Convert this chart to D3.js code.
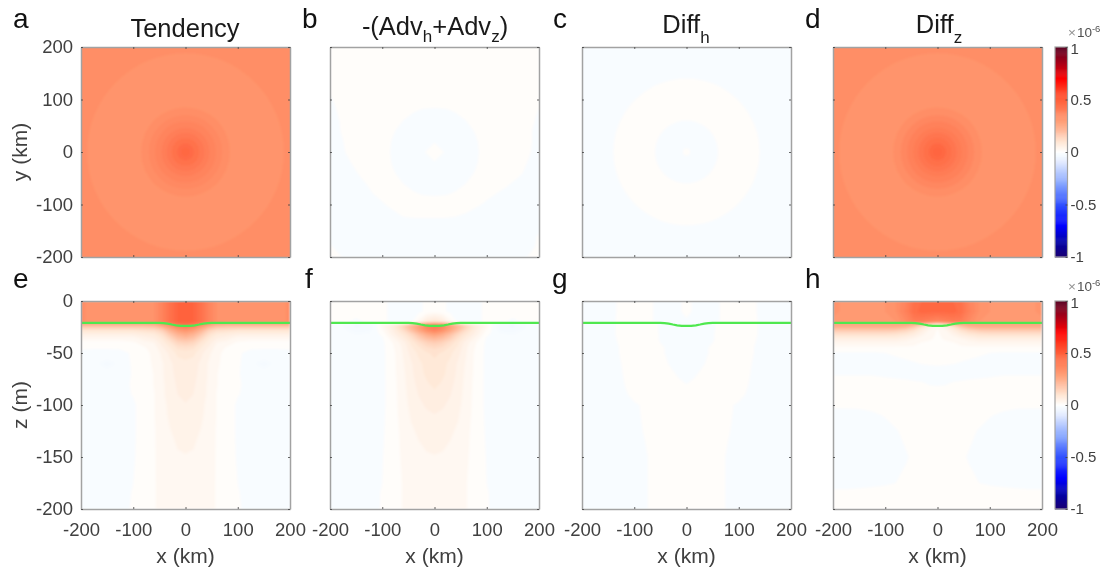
<!DOCTYPE html>
<html>
<head>
<meta charset="utf-8">
<script src="https://cdn.jsdelivr.net/npm/d3@7"></script>
<style>
body { margin: 0; background: #fff; }
svg { display: block; font-family: "Liberation Sans", Arial, sans-serif; filter: blur(0.35px); }
</style>
</head>
<body>
<script>
// all field values are in units of 1e-8 (so 100 = top of the colour bar)
var xTicks = [-200, -100, 0, 100, 200];
var yTicks = [-200, -100, 0, 100, 200];
var zTicks = [-200, -150, -100, -50, 0];
var barTicks = [-1, -0.5, 0, 0.5, 1];
var letters = ["a", "b", "c", "d", "e", "f", "g", "h"];

var cmapValues = [-100, -85, -70, -50, -30, -10, -3, -1, 0, 1, 10, 20, 30, 50, 60, 70, 85, 100];
var cmapColors = ["#1c0070", "#0000a8", "#0000ff", "#3050ff", "#85a5ff", "#dfe8ff", "#f5faff", "#f8fcff", "#ffffff",
    "#fffdfa", "#ffe6d4", "#ffbd9f", "#ff9d75", "#ff5f3a", "#ff3a20", "#ff0000", "#a80018", "#5a0022"];

// rings: radius in km, value inside that radius
var tendencyRingR = [400, 188, 128, 85, 70, 58, 46, 36, 26, 16, 8];
var tendencyRingV = [35, 33, 33, 35, 36.5, 38, 40, 42, 44, 46, 47];
var diffzRingR = [400, 188, 135, 85, 70, 58, 46, 36, 26, 16, 8];
var diffzRingV = [35, 33, 33, 35, 37, 39, 41, 43, 45, 47, 48];
var diffhRingR = [400, 140, 60, 7];
var diffhRingV = [-1, 1, -1, 1];

// panel b on a plan-view grid, rows from y = 200 down to y = -200
var planX = [-200, -180, -160, -140, -120, -100, -80, -60, -40, -20, 0, 20, 40, 60, 80, 100, 120, 140, 160, 180, 200];
var planY = [200, 180, 160, 140, 120, 100, 80, 60, 40, 20, 0, -20, -40, -60, -80, -100, -120, -140, -160, -180, -200];
var advPlan = [
    [1, 1, 1, 1, 1, 1, 1, 1, 1, 1, 1, 1, 1, 1, 1, 1, 1, 1, 1, 1, 1],
    [1, 1, 1, 1, 1, 1, 1, 1, 1, 1, 1, 1, 1, 1, 1, 1, 1, 1, 1, 1, 1],
    [1, 1, 1, 1, 1, 1, 1, 1, 1, 1, 1, 1, 1, 1, 1, 1, 1, 1, 1, 1, 1],
    [1, 1, 1, 1, 1, 1, 1, 1, 1, 1, 1, 1, 1, 1, 1, 1, 1, 1, 1, 1, 1],
    [.3, 1, 1, 1, 1, 1, 1, 1, 1, 1, 1, 1, 1, 1, 1, 1, 1, 1, 1, 1, 1],
    [-.2, .6, 1, 1, 1, 1, 1, 1, 1, 1, 1, 1, 1, 1, 1, 1, 1, 1, 1, 1, .3],
    [-.5, .3, 1, 1, 1, 1, 1, .75, .2, -.15, -.25, -.15, .2, .75, 1, 1, 1, 1, 1, 1, -.1],
    [-.8, .1, 1, 1, 1, 1, .75, 0, -.65, -1, -1.5, -1, -.65, 0, .75, 1, 1, 1, 1, .6, -.4],
    [-1, 0, .5, 1, 1, 1, .2, -.65, -1, -1.8, -1.9, -1.8, -1, -.65, .2, 1, 1, 1, 1, .3, -.6],
    [-1, -.2, .5, 1, 1, 1, -.15, -1, -1, -.5, -.1, -.5, -1, -1, -.15, 1, 1, 1, 1, .3, -.6],
    [-1, -.4, .5, 1, 1, .75, -.25, -1, -1, -.1, 1, -.1, -1, -1, -.25, .75, 1, 1, 1, .2, -.7],
    [-1, -.7, 0, .8, 1, 1, -.15, -1, -1, -.5, -.1, -.5, -1, -1, -.15, 1, 1, 1, .6, -.1, -1],
    [-1, -1, -.5, .3, 1, 1, .2, -.65, -1, -1, -1, -1, -1, -.65, .2, 1, 1, 1, .4, -.5, -1],
    [-1, -1, -1, -.3, .4, 1, .75, 0, -.65, -1, -1, -1, -.65, 0, .75, 1, 1, .2, -.5, -1, -1],
    [-1, -1, -1, -1, -.1, .5, 1, .75, .2, -.15, -.25, -.15, .2, .75, 1, .6, -.1, -.6, -1, -1, -1],
    [-1, -1, -1, -1, -1, -.2, .5, 1, 1, 1, 1, 1, 1, 1, .4, -.4, -1, -1, -1, -1, -1],
    [-1, -1, -1, -1, -1, -1, -.5, .2, .4, .4, .4, .4, .2, -.2, -1, -1, -1, -1, -1, -1, -1],
    [-1, -1, -1, -1, -1, -1, -1, -1, -1, -1, -1, -1, -1, -1, -1, -1, -1, -1, -1, -1, -1],
    [-1, -1, -1, -1, -1, -1, -1, -1, -1, -1, -1, -1, -1, -1, -1, -1, -1, -1, -1, -1, .3],
    [.3, -1, -1, -1, -1, -1, -1, -1, -1, -1, -1, -1, -1, -1, -1, -1, -1, -1, -1, -1, .6],
    [.6, .2, -1, -1, -1, -1, -1, -1, -1, -1, -1, -1, -1, -1, -1, -1, -1, -1, -1, .2, .6]
];

// sections: right half only (x >= 0), the left half mirrors it
var sectionX = [0, 15, 30, 45, 60, 80, 100, 125, 150, 175, 200];
var sectionZ = [0, -10, -20, -21, -24, -28, -32, -36, -40, -45, -50, -60, -70, -80, -90, -100, -110, -125, -150, -175, -185, -200];

var tendencySection = [
    [48, 48, 44, 38, 34, 32, 32, 32, 32, 32, 35],
    [48, 48, 44, 38, 34, 32, 32, 32, 32, 32, 35],
    [48, 48, 44, 38, 34, 32, 32, 32, 32, 32, 35],
    [47, 46, 41, 35, 31, 30, 30, 30, 30, 30, 31],
    [42, 39, 32, 25, 20, 19, 19, 19, 19, 19, 19],
    [33, 30, 23, 15, 12, 11, 10, 10, 10, 10, 10],
    [26, 23, 17, 11, 8, 7, 6, 6, 6, 6, 6],
    [20, 18, 13, 8.5, 6, 5, 3, 3, 3, 3, 3],
    [15, 14, 10, 7, 4, 3, 1.7, 1, 1, 1, 1],
    [11, 10.5, 8, 5.5, 3, 1.7, .9, .5, .3, .3, .3],
    [9, 8.7, 6.5, 4.5, 2.5, 1.3, .5, -1, -1, -1, -.5],
    [7.5, 7, 5.5, 3.7, 2.3, 1.2, .5, -1.7, -2.4, -1.7, -.5],
    [7.5, 6.7, 5.3, 3.7, 2.1, .9, .2, -1, -1.5, -1, -.5],
    [7, 6.3, 5.1, 3.5, 2.1, .9, .2, -.5, -.5, -.5, -.5],
    [6.7, 6, 4.9, 3.5, 1.9, .9, .1, -.5, -.5, -.5, -.5],
    [5.8, 5.3, 4.5, 3.3, 1.9, .9, -.3, -.5, -.5, -.5, -.5],
    [5.3, 5, 4.3, 3.3, 1.9, .9, -.3, -.5, -.5, -.5, -.5],
    [4.7, 4.5, 3.9, 3.1, 1.8, .9, -.3, -.5, -.5, -.5, -.5],
    [3.9, 3.8, 3.4, 2.9, 1.8, .9, -.2, -.5, -.5, -.5, -.5],
    [3.7, 3.6, 3.2, 2.7, 1.8, .9, 0, -.5, -.5, -.5, -.5],
    [3.5, 3.5, 3.1, 2.7, 1.8, .9, .1, -.5, -.5, -.5, -.5],
    [3.5, 3.5, 3.1, 2.7, 1.8, .9, .2, -.5, -.5, -.5, -.5]
];
var advSection = [
    [1, .5, -.5, -1, -1, -.5, .5, 1, .5, .5, .5],
    [1, .5, -.5, -1, -1, -.5, .5, 1, .5, .5, .5],
    [10, 8, 3, -.5, -1, -.5, .5, .3, -.3, .3, .5],
    [22, 20, 14, 8, 3, 1, 1, -2, -2, -.5, .3],
    [42, 38, 30, 22, 15, 7.5, 3, -3.5, -4.5, -2, -.5],
    [39, 35, 27, 19, 12, 6, 1.5, -2.5, -3, -1.5, -.5],
    [29, 25, 19, 13, 9, 5, .5, -1.5, -1.9, -1, -.5],
    [21, 19, 15, 10.5, 7, 3.2, -.3, -1, -1.5, -1, -.5],
    [16, 14.5, 11.5, 8.5, 5, 2, -.5, -1, -1, -.8, -.5],
    [12.5, 11.5, 9.5, 7.5, 4.4, 1.6, -.5, -1, -1, -.8, -.5],
    [10.5, 9.7, 8.5, 6.7, 4.2, 1.3, -.5, -1, -1, -.8, -.5],
    [9.5, 8.7, 7.5, 5.7, 3.8, 1.3, -.5, -.8, -.8, -.8, -.5],
    [9.3, 8.5, 7.1, 5.5, 3.5, 1.3, -.5, -.8, -.8, -.5, -.5],
    [8.5, 7.7, 6.5, 5.3, 3.3, 1.2, -.5, -.5, -.5, -.5, -.5],
    [7.5, 7.1, 6.1, 5, 3.1, 1.2, -.5, -.5, -.5, -.5, -.5],
    [6.7, 6.3, 5.5, 4.6, 3, 1.2, -.5, -.5, -.5, -.5, -.5],
    [5.9, 5.6, 5, 4.2, 2.8, 1.2, -.4, -.5, -.5, -.5, -.5],
    [5, 4.8, 4.3, 3.7, 2.5, 1.2, -.3, -.5, -.5, -.5, -.5],
    [3.9, 3.8, 3.5, 3.1, 2.3, 1.2, -.1, -.5, -.5, -.5, -.5],
    [3.5, 3.4, 3.1, 2.9, 2.1, 1.1, 0, -.5, -.5, -.5, -.5],
    [3.3, 3.3, 3.1, 2.7, 2.1, 1.1, .1, -.5, -.5, -.5, -.5],
    [3.1, 3.1, 2.9, 2.7, 2.1, 1.1, .1, -.5, -.5, -.5, -.5]
];
var diffhSection = [
    [1, -.5, -1, -1, -.2, 1, 1, .3, -.5, -1, -1],
    [1, -.5, -1, -1, -.2, 1, 1, .3, -.5, -1, -1],
    [-.5, -1, -1, -1, -.2, 1, 1, .4, -.5, -1, -1],
    [-1, -1, -1, -.5, .3, 1, 1, .4, -.5, -1, -1],
    [-1, -1, -1, -.5, .3, 1, 1, .4, -.5, -1, -1],
    [-1, -1, -1, -.5, .3, 1, 1, .4, -.5, -1, -1],
    [-1, -1, -1, -.5, .4, 1, 1, .4, -.5, -1, -1],
    [-1, -1, -1, -.5, .4, 1, 1, .3, -.5, -1, -1],
    [-1, -1, -1, -.3, .5, 1, 1, .2, -.5, -1, -1],
    [-1, -1, -.7, .2, .5, 1, 1, .1, -.5, -1, -1],
    [-1, -1, -.7, .2, .5, 1, 1, .1, -.5, -1, -1],
    [-1, -.8, -.2, .4, .7, 1, 1, 0, -.5, -1, -1],
    [-.5, -.2, .3, .7, 1, 1, .8, -.1, -.5, -1, -1],
    [0, .3, .6, 1, 1, 1, .6, -.2, -.5, -1, -1],
    [.5, 1, 1, 1, 1, 1, .5, -.5, -1, -1, -1],
    [1, 1, 1, 1, 1, .2, -.2, -.5, -1, -1, -1],
    [1, 1, 1, 1, 1, .2, -.3, -.5, -1, -1, -1],
    [1, 1, 1, 1, 1, .1, -.4, -1, -1, -1, -1],
    [1, 1, 1, 1, .5, -.2, -.5, -1, -1, -1, -1],
    [1, 1, 1, 1, .5, -.2, -.5, -1, -1, -1, -1],
    [1, 1, 1, 1, .5, -.2, -.5, -1, -1, -1, -1],
    [1, 1, 1, 1, .5, -.2, -.5, -1, -1, -1, -1]
];
var diffzSection = [
    [46, 46, 46, 44, 38, 34, 32, 31, 31, 31, 33],
    [47, 47, 47, 45, 39, 34, 32, 31, 31, 31, 33],
    [36, 38, 40, 40, 36, 32, 31, 30, 30, 30, 31],
    [18, 24, 30, 30, 30, 28, 27, 27, 27, 27, 27],
    [3, 6, 12, 19, 24, 26, 26, 26, 26, 26, 26],
    [1.8, 3.7, 7, 11, 14, 16.5, 17, 17, 17, 17, 17],
    [1.7, 2.7, 4.5, 7, 9, 10.5, 11, 11, 11, 11, 11],
    [1.6, 2.3, 3, 4, 5, 6.5, 6.5, 6.5, 6.5, 6.5, 6.5],
    [1.5, 1.7, 1.9, 2.7, 3.1, 3.7, 3.7, 3.7, 3.7, 3.7, 3.7],
    [1.5, 1.5, 1.5, 1.5, 1.5, 1.5, 1.5, 1.5, 1.5, 1.5, 1.5],
    [1, 1, 1, 1, .8, .5, 0, -.3, -.3, -.3, -.3],
    [.3, .2, .1, -.2, -.5, -1, -1, -1, -1, -1, -1],
    [-1, -1, -1, -1, -1, -.8, -.5, -.2, -.2, -.2, -.2],
    [-.2, -.1, .3, .5, .8, 1, 1, 1, 1, 1, 1],
    [1, 1, 1, 1, 1, 1, 1, 1, 1, 1, 1],
    [1, 1, 1, 1, 1, 1, .8, .5, .3, .3, .3],
    [1, 1, 1, 1, .6, .4, .1, -.3, -.5, -.6, -.6],
    [1, 1, 1, .6, .3, -.1, -.5, -1, -1, -1, -1],
    [1, .8, .5, .2, -.1, -.5, -1, -1, -1, -1, -1],
    [1, 1, .8, .6, .3, 0, -.3, -.5, -.6, -.6, -.6],
    [1, 1, 1, 1, 1, 1, 1, .8, .6, .4, .4],
    [1, 1, 1, 1, 1, 1, 1, 1, 1, 1, 1]
];

// mixed layer depth (green line)
var mldX = [-200, -50, -42, -34, -26, -18, -9, 0, 9, 18, 26, 34, 42, 50, 200];
var mldZ = [-21, -21, -21.2, -21.7, -22.6, -23.4, -23.9, -24, -23.9, -23.4, -22.6, -21.7, -21.2, -21, -21];

var width = 1107, height = 572;
var panelLefts = [81, 330, 582, 833];
var panelW = 209;
var topRow = { y0: 47, y1: 257 };
var botRow = { y0: 301, y1: 509 };
var tickColor = "#404040", boxColor = "#a2a2a2", textColor = "#404040";
var tickFont = 18.5, labelFont = 21;

var color = d3.scaleLinear().domain(cmapValues).range(cmapColors).clamp(true);
var thresholds = d3.range(-100, 100, 2);

var svg = d3.select("body").append("svg").attr("width", width).attr("height", height);
var defs = svg.append("defs");
defs.append("filter").attr("id", "soft")
    .append("feGaussianBlur").attr("stdDeviation", 0.9);

function mirrorRow(row) {
    return row.slice(1).reverse().concat(row);
}

// index scale: d3.contours puts grid value i at i + 0.5
function indexScale(levels) {
    return d3.scaleLinear().domain(levels.map(function(d, i) { return i + 0.5; })).range(levels).clamp(true);
}

function drawContours(g, xs, ys, rows, x, y) {
    var nx = xs.length, ny = ys.length;
    var values = d3.merge(rows);
    var ix = indexScale(xs), iy = indexScale(ys);
    var path = d3.geoPath(d3.geoTransform({
        point: function(u, v) { this.stream.point(x(ix(u)), y(iy(v))); }
    }));
    var bands = d3.contours().size([nx, ny]).thresholds(thresholds)(values);
    g.selectAll("path.band").data(bands).enter().append("path")
        .attr("class", "band")
        .attr("d", path)
        .attr("fill", function(d) { return color(d.value + 1); });
}

function drawRings(g, radii, vals, x, y) {
    g.selectAll("ellipse").data(radii).enter().append("ellipse")
        .attr("cx", x(0))
        .attr("cy", y(0))
        .attr("rx", function(d) { return Math.abs(x(d) - x(0)); })
        .attr("ry", function(d) { return Math.abs(y(d) - y(0)); })
        .attr("fill", function(d, i) { return color(vals[i]); });
}

function drawAxes(g, x, y, w, h, xVals, yVals, showX, showY) {
    var asString = function(d) { return String(d); };
    var none = function() { return ""; };
    var axes = [
        d3.axisBottom(x).tickValues(xVals).tickFormat(showX ? asString : none),
        d3.axisTop(x).tickValues(xVals).tickFormat(none),
        d3.axisLeft(y).tickValues(yVals).tickFormat(showY ? asString : none),
        d3.axisRight(y).tickValues(yVals).tickFormat(none)
    ];
    var shifts = [[0, h], [0, 0], [0, 0], [w, 0]];
    axes.forEach(function(axis, i) {
        var a = g.append("g")
            .attr("transform", "translate(" + shifts[i][0] + "," + shifts[i][1] + ")")
            .call(axis.tickSizeInner(-2).tickSizeOuter(0).tickPadding(i == 0 ? 14 : 8));
        a.select(".domain").attr("stroke", boxColor).attr("stroke-width", 1.5);
        a.selectAll(".tick line").attr("stroke", tickColor).attr("stroke-width", 0.8);
        a.selectAll(".tick text")
            .attr("fill", textColor)
            .attr("font-size", tickFont)
            .attr("font-family", "'Liberation Sans', Arial, sans-serif");
    });
}

function panel(col, row, yVals, yDomain, drawField, showMld) {
    var left = panelLefts[col];
    var top = row.y0, h = row.y1 - row.y0;
    var x = d3.scaleLinear().domain([-200, 200]).range([0, panelW]);
    var y = d3.scaleLinear().domain(yDomain).range([h, 0]);
    var g = svg.append("g").attr("transform", "translate(" + left + "," + top + ")");
    var clipId = "clip" + col + "_" + top;
    defs.append("clipPath").attr("id", clipId)
        .append("rect").attr("width", panelW).attr("height", h);
    var field = g.append("g").attr("clip-path", "url(#" + clipId + ")")
        .append("g").attr("filter", "url(#soft)");
    drawField(field, x, y);
    if (showMld) {
        var line = d3.line()
            .x(function(d, i) { return x(mldX[i]); })
            .y(function(d) { return y(d); });
        g.append("path").attr("d", line(mldZ))
            .attr("fill", "none").attr("stroke", "#4fe84f").attr("stroke-width", 2.2);
    }
    drawAxes(g, x, y, panelW, h, xTicks, yVals, row === botRow, col == 0);
}

function ringField(radii, vals) {
    return function(g, x, y) { drawRings(g, radii, vals, x, y); };
}

function sectionField(rows) {
    return function(g, x, y) {
        var xs = sectionX.slice(1).map(function(d) { return -d; }).reverse().concat(sectionX);
        drawContours(g, xs, sectionZ, rows.map(mirrorRow), x, y);
    };
}

panel(0, topRow, yTicks, [-200, 200], ringField(tendencyRingR, tendencyRingV), false);
panel(1, topRow, yTicks, [-200, 200], function(g, x, y) { drawContours(g, planX, planY, advPlan, x, y); }, false);
panel(2, topRow, yTicks, [-200, 200], ringField(diffhRingR, diffhRingV), false);
panel(3, topRow, yTicks, [-200, 200], ringField(diffzRingR, diffzRingV), false);
panel(0, botRow, zTicks, [-200, 0], sectionField(tendencySection), true);
panel(1, botRow, zTicks, [-200, 0], sectionField(advSection), true);
panel(2, botRow, zTicks, [-200, 0], sectionField(diffhSection), true);
panel(3, botRow, zTicks, [-200, 0], sectionField(diffzSection), true);

// colour bars
[topRow, botRow].forEach(function(row) {
    var bh = row.y1 - row.y0;
    var by = d3.scaleLinear().domain([-1, 1]).range([bh, 0]);
    var g = svg.append("g").attr("transform", "translate(1055," + row.y0 + ")");
    var steps = d3.range(-1, 1, 0.01);
    g.selectAll("rect").data(steps).enter().append("rect")
        .attr("x", 0)
        .attr("y", function(d) { return by(d + 0.01); })
        .attr("width", 12.5)
        .attr("height", function(d) { return by(d) - by(d + 0.01) + 0.5; })
        .attr("fill", function(d) { return color((d + 0.005) * 100); });
    g.append("rect").attr("width", 12.5).attr("height", bh)
        .attr("fill", "none").attr("stroke", boxColor).attr("stroke-width", 1.2);
    var a = g.append("g").attr("transform", "translate(12.5,0)")
        .call(d3.axisRight(by).tickValues(barTicks).tickSizeInner(-2).tickSizeOuter(0).tickPadding(3)
            .tickFormat(function(d) { return String(d); }));
    a.select(".domain").attr("stroke", "none");
    a.selectAll(".tick line").attr("stroke", tickColor).attr("stroke-width", 0.8);
    a.selectAll(".tick text").attr("fill", textColor).attr("font-size", 15)
        .attr("font-family", "'Liberation Sans', Arial, sans-serif")
        .attr("y", function(d) { return d == 1 ? 2 : 0; });
    var exp = svg.append("text").attr("x", 1068).attr("y", row.y0 - 10)
        .attr("fill", "#505050").attr("font-size", 13.5);
    exp.append("tspan").text("×").attr("fill", "#909090");
    exp.append("tspan").text("10").attr("dx", 1);
    exp.append("tspan").text("-6").attr("font-size", 9.5).attr("dy", -5);
});

// titles
function title(cx, baseY, base, sub1, subDy, rest, sub2, end) {
    var t = svg.append("text").attr("x", cx).attr("y", baseY)
        .attr("text-anchor", "middle").attr("font-size", 25.5).attr("fill", "#1a1a1a");
    t.append("tspan").text(base);
    if (sub1) t.append("tspan").text(sub1).attr("font-size", 17).attr("dy", subDy);
    if (rest) t.append("tspan").text(rest).attr("dy", -subDy);
    if (sub2) t.append("tspan").text(sub2).attr("font-size", 17).attr("dy", subDy);
    if (end) t.append("tspan").text(end).attr("dy", -subDy);
}
title(185, 37, "Tendency");
title(435, 35, "-(Adv", "h", 7, "+Adv", "z", ")");
title(686, 33, "Diff", "h", 9.5);
title(939, 33, "Diff", "z", 9.5);

// panel letters
var letterX = [13, 302, 553, 805, 13, 305, 552, 805];
svg.selectAll("text.letter").data(letters).enter().append("text")
    .attr("class", "letter")
    .attr("x", function(d, i) { return letterX[i]; })
    .attr("y", function(d, i) { return i < 4 ? 28 : 288; })
    .attr("font-size", 28)
    .attr("fill", "#111")
    .text(function(d) { return d; });

// axis labels
panelLefts.forEach(function(left) {
    svg.append("text").attr("x", left + panelW / 2).attr("y", 563)
        .attr("text-anchor", "middle").attr("font-size", labelFont).attr("fill", textColor)
        .text("x (km)");
});
svg.append("text").attr("transform", "translate(27,152) rotate(-90)")
    .attr("text-anchor", "middle").attr("font-size", labelFont).attr("fill", textColor).text("y (km)");
svg.append("text").attr("transform", "translate(27,405) rotate(-90)")
    .attr("text-anchor", "middle").attr("font-size", labelFont).attr("fill", textColor).text("z (m)");
</script>
</body>
</html>
